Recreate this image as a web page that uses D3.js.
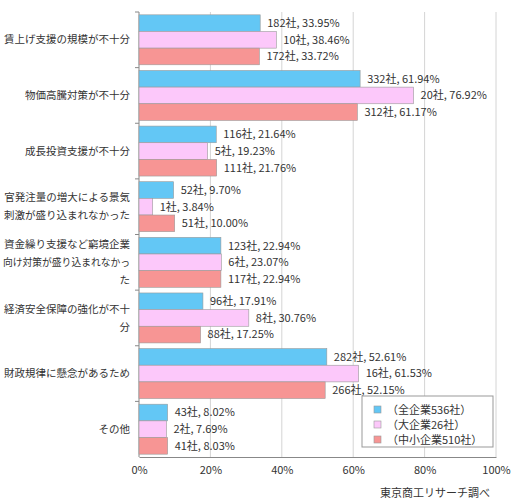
<!DOCTYPE html>
<html>
<head>
<meta charset="utf-8">
<script src="https://cdn.jsdelivr.net/npm/d3@7"></script>
<style>
  body { margin: 0; background: #fff; }
  text { font-family: "Noto Sans CJK JP", sans-serif; fill: #333; }
</style>
</head>
<body>
<div id="chart"></div>
<script>
// 
// categories (multi-line labels split on "\n")
// 
var categories = [
    "賃上げ支援の規模が不十分",
    "物価高騰対策が不十分",
    "成長投資支援が不十分",
    "官発注量の増大による景気\n刺激が盛り込まれなかった",
    "資金繰り支援など窮境企業\n向け対策が盛り込まれなかっ\nた",
    "経済安全保障の強化が不十\n分",
    "財政規律に懸念があるため",
    "その他"
];

var seriesNames = ["（全企業536社）", "（大企業26社）", "（中小企業510社）"];
var seriesColors = ["#63c7f5", "#fcc8fa", "#f79594"];

var allCount = [182, 332, 116, 52, 123, 96, 282, 43];
var allPct = [33.95, 61.94, 21.64, 9.70, 22.94, 17.91, 52.61, 8.02];

var largeCount = [10, 20, 5, 1, 6, 8, 16, 2];
var largePct = [38.46, 76.92, 19.23, 3.84, 23.07, 30.76, 61.53, 7.69];

var smeCount = [172, 312, 111, 51, 117, 88, 266, 41];
var smePct = [33.72, 61.17, 21.76, 10.00, 22.94, 17.25, 52.15, 8.03];

var xTicks = [0, 20, 40, 60, 80, 100];

var counts = [allCount, largeCount, smeCount];
var pcts = [allPct, largePct, smePct];

var width = 524, height = 504;
var margin = { top: 12, right: 28, bottom: 47, left: 139 };

var svg = d3.select("#chart").append("svg")
    .attr("width", width)
    .attr("height", height);

var x = d3.scaleLinear()
    .domain([0, 100])
    .range([margin.left, width - margin.right]);

var y = d3.scaleBand()
    .domain(d3.range(categories.length))
    .range([margin.top, height - margin.bottom]);

var inner = d3.scaleBand()
    .domain(d3.range(seriesNames.length))
    .range([0, y.bandwidth()])
    .paddingOuter(0.17);

// gridlines
svg.append("g")
    .selectAll("line")
    .data(xTicks.slice(1))
    .enter().append("line")
    .attr("x1", function(d) { return x(d); })
    .attr("x2", function(d) { return x(d); })
    .attr("y1", margin.top)
    .attr("y2", height - margin.bottom)
    .attr("stroke", "#d4d4d4");

// x axis
var xAxis = svg.append("g")
    .attr("transform", "translate(0," + (height - margin.bottom) + ")")
    .call(d3.axisBottom(x).tickValues(xTicks).tickSize(0).tickPadding(9)
        .tickFormat(function(d) { return d + "%"; }));
xAxis.select(".domain").attr("stroke", "#888");
xAxis.selectAll("text").style("font-size", "11px")
    .style("font-family", "\"Noto Sans CJK JP\", sans-serif").attr("fill", "#333");

// y axis line with ticks at category boundaries
var yLine = svg.append("g");
yLine.append("line")
    .attr("x1", margin.left).attr("x2", margin.left)
    .attr("y1", margin.top).attr("y2", height - margin.bottom)
    .attr("stroke", "#888");
yLine.selectAll("line.tick")
    .data(d3.range(categories.length))
    .enter().append("line")
    .attr("class", "tick")
    .attr("x1", margin.left - 4).attr("x2", margin.left)
    .attr("y1", function(d) { return y(d); })
    .attr("y2", function(d) { return y(d); })
    .attr("stroke", "#888");

// category labels
var maxLabelWidth = margin.left - 12;
categories.forEach(function(c, i) {
    var lines = c.split("\n");
    var lh = 18;
    var cy = y(i) + y.bandwidth() / 2 - (lines.length - 1) * lh / 2;
    var t = svg.append("text")
        .attr("text-anchor", "end")
        .style("font-size", "10.5px");
    lines.forEach(function(l, k) {
        var ts = t.append("tspan")
            .attr("x", margin.left - 9)
            .attr("y", cy + k * lh)
            .attr("dy", "0.35em")
            .text(l);
        // squeeze lines that would run off the left edge
        if (ts.node().getComputedTextLength() > maxLabelWidth) {
            ts.attr("textLength", maxLabelWidth).attr("lengthAdjust", "spacingAndGlyphs");
        }
    });
});

// bars + value labels
seriesNames.forEach(function(s, si) {
    var g = svg.append("g");
    g.selectAll("rect")
        .data(pcts[si])
        .enter().append("rect")
        .attr("x", x(0))
        .attr("y", function(d, i) { return y(i) + inner(si); })
        .attr("width", function(d) { return x(d) - x(0); })
        .attr("height", inner.bandwidth())
        .attr("fill", seriesColors[si])
        .attr("stroke", "#9a9a9a")
        .attr("stroke-width", 0.6);
    g.selectAll("text")
        .data(pcts[si])
        .enter().append("text")
        .attr("x", function(d) { return x(d) + 7; })
        .attr("y", function(d, i) { return y(i) + inner(si) + inner.bandwidth() / 2; })
        .attr("dy", "0.35em")
        .style("font-size", "11px")
        .text(function(d, i) { return counts[si][i] + "社, " + d.toFixed(2) + "%"; });
});

// legend
var lg = svg.append("g").attr("transform", "translate(362,396)");
lg.append("rect")
    .attr("width", 131).attr("height", 51)
    .attr("fill", "#fff").attr("stroke", "#999");
seriesNames.forEach(function(s, si) {
    lg.append("rect")
        .attr("x", 12).attr("y", 10 + si * 15)
        .attr("width", 7).attr("height", 7)
        .attr("fill", seriesColors[si])
        .attr("stroke", "#9a9a9a").attr("stroke-width", 0.6);
    lg.append("text")
        .attr("x", 25).attr("y", 14 + si * 15)
        .attr("dy", "0.35em")
        .style("font-size", "11px")
        .text(s);
});

// source
svg.append("text")
    .attr("x", 490).attr("y", 493)
    .attr("text-anchor", "end")
    .attr("dy", "0.35em")
    .style("font-size", "11px")
    .text("東京商工リサーチ調べ");
</script>
</body>
</html>
